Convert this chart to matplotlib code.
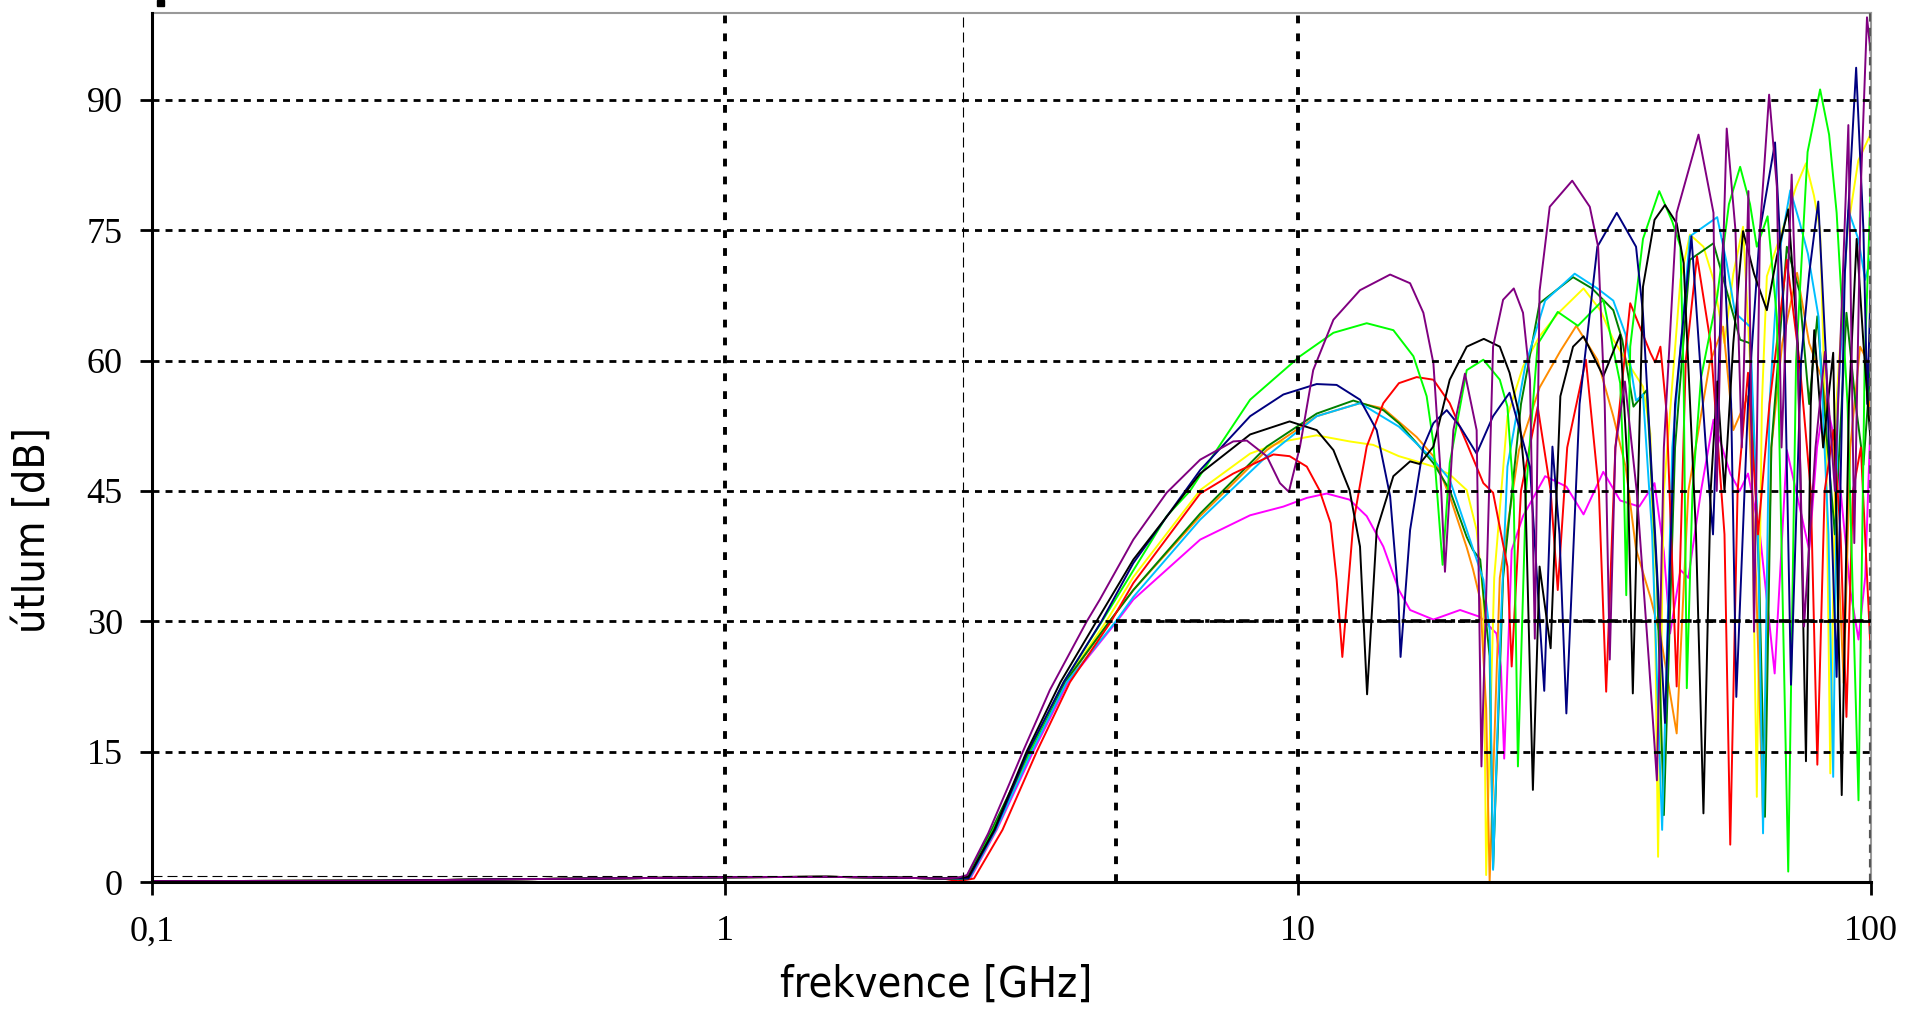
import matplotlib
matplotlib.use('Agg')
import matplotlib.pyplot as plt
from matplotlib.ticker import FixedLocator, FixedFormatter, NullLocator
from matplotlib.patches import Rectangle

# pass band below the cutoff, same for every sample  (GHz / dB)
pass_f = [0.1, 0.25, 0.4, 0.7, 1.0, 1.5, 2.0, 2.4]
pass_db = [0.1, 0.15, 0.3, 0.45, 0.55, 0.6, 0.5, 0.4]

# stop band
purple_f = [2.55, 2.645, 2.88, 3.14, 3.31, 3.69, 4.28, 4.51, 5.16, 5.90, 6.75, 7.71, 8.14, 8.82, 9.30, 9.64,
            10.08, 10.63, 11.53, 12.83, 14.48, 15.69, 16.55, 17.23, 17.69, 18.05, 18.67, 19.56, 20.5, 20.9, 21.9, 22.8,
            23.8, 24.7, 25.4, 25.9, 26.4, 27.5, 30.1, 32.3, 33.4, 34.3, 35.0, 35.8, 37.2, 39.0, 41.0, 42.3,
            43.5, 45.8, 50.0, 53.1, 53.8, 54.5, 56.0, 58.0, 59.5, 61.1, 62.5, 64.0, 66.4, 68.5, 69.8, 72.7,
            74.5, 76.4, 80.0, 83.1, 86.5, 91.3, 93.5, 96.0, 98.4, 100]
purple_db = [0.5, 0.8, 5.6, 11.4, 15, 22.1, 30, 32.5, 39.4, 44.8, 48.6, 50.7, 50.8, 49.0, 45.9, 44.9,
             50.1, 58.9, 64.7, 68.1, 69.9, 68.9, 65.5, 59.7, 48.2, 35.7, 52.0, 58.5, 52.0, 13.3, 61.6, 67.0,
             68.3, 65.5, 57.8, 28, 68, 77.7, 80.7, 77.7, 73.1, 55, 25.6, 50, 57.6, 45, 25, 11.7,
             50, 77.0, 86.0, 77.0, 45, 60, 86.7, 75, 50, 79.5, 28.8, 75, 90.6, 80, 50, 81.4,
             60, 29.4, 50, 61, 45, 87.1, 39, 80, 99.5, 95]

black_f = [2.55, 2.66, 2.95, 3.36, 3.85, 4.45, 5.16, 6.75, 8.25, 9.67, 10.78, 11.53, 12.3, 12.83, 13.2, 13.72,
           14.67, 15.69, 16.3, 17.23, 18.4, 19.70, 21.1, 22.5, 23.4, 24.3, 24.9, 25.7, 26.4, 27.6, 28.7, 30.2,
           31.5, 34.1, 36.5, 37.6, 38.4, 40.0, 41.9, 43.7, 45.8, 47.1, 49.5, 51.0, 52.5, 53.9, 55.5, 57.5,
           59.8, 62.5, 65.8, 68.5, 71.7, 74.5, 77.0, 78.5, 79.6, 82.5, 85.9, 88.9, 91.5, 94.4, 97.0, 100]
black_db = [0.5, 0.6, 6.0, 15, 23, 30, 37.1, 47.0, 51.5, 53.0, 52.0, 49.7, 45.1, 38.6, 21.6, 40.5,
            46.7, 48.4, 48.1, 50.1, 57.8, 61.6, 62.5, 61.6, 58.6, 53.9, 46.3, 10.6, 36.3, 26.9, 55.9, 61.6,
            62.8, 58.2, 63.0, 47.8, 21.7, 68.5, 76.2, 77.9, 75.8, 71.2, 40, 7.9, 45, 57.6, 45, 62,
            74.9, 70, 65.8, 72, 77.4, 62, 13.9, 55, 63.5, 50, 60.9, 10.0, 55, 74.0, 62, 50]

navy_f = [2.55, 2.66, 2.96, 3.38, 3.9, 4.54, 5.16, 6.75, 8.25, 9.43, 10.78, 11.68, 12.83, 13.72, 14.48, 14.97,
          15.1, 15.69, 16.55, 17.23, 18.18, 19.18, 20.5, 21.9, 23.4, 25.4, 26.4, 26.9, 27.8, 28.6, 29.4, 31.0,
          33.3, 36.0, 38.9, 40.0, 42.0, 43.7, 45.5, 48.6, 51.5, 53.0, 55.2, 57.0, 58.2, 61.0, 64.0, 68.0,
          70.5, 72.5, 75.5, 78.0, 80.9, 83.5, 87.1, 90.0, 94.2, 97.0, 98.5, 100]
navy_db = [0.4, 0.4, 6, 15, 23, 30, 36.7, 47.4, 53.6, 56.1, 57.3, 57.2, 55.5, 52.0, 44.4, 32.8,
           25.9, 40.5, 50.1, 52.8, 54.3, 52.4, 49.3, 53.6, 56.3, 47.8, 30.3, 22, 50.1, 40, 19.4, 55,
           73.1, 77.0, 73.1, 65.4, 40, 18.3, 55, 74.3, 50, 40, 74.0, 55, 21.3, 55, 75, 85.1,
           65, 22.7, 60, 70, 78.3, 60, 23.6, 70, 93.7, 75, 55, 70]

lime_f = [2.55, 2.65, 2.94, 3.40, 3.9, 4.55, 5.90, 6.48, 7.21, 8.25, 10.08, 11.53, 13.18, 14.67, 15.9, 16.77,
          17.23, 17.69, 17.88, 18.4, 19.7, 21.06, 22.5, 23.2, 23.8, 24.2, 25.0, 26.2, 28.4, 30.8, 34.1, 36.5,
          37.0, 37.4, 38.0, 40.0, 42.7, 45.0, 46.5, 47.1, 47.7, 48.8, 50.5, 53.9, 56.5, 59.1, 61.5, 63.2,
          66.0, 68.5, 71.7, 74.0, 77.5, 81.5, 84.5, 87.1, 91.0, 95.1, 97.5, 100]
lime_db = [0.4, 0.4, 6, 15, 23, 30, 42.1, 45, 49.7, 55.5, 60.5, 63.2, 64.3, 63.5, 60.5, 55.9,
           50.5, 40.5, 36.5, 48.2, 58.9, 60.1, 57.8, 54.7, 44.0, 13.3, 45, 61.9, 65.6, 64.0, 67.0, 57.4,
           47.8, 33, 61.6, 74, 79.5, 76, 73.1, 57.8, 22.3, 45, 58, 67.4, 78, 82.3, 78, 73.1,
           76.6, 65, 1.2, 60, 84, 91.2, 86, 77.0, 55, 9.4, 60, 80.8]

red_f = [2.55, 2.72, 3.05, 3.50, 4.0, 4.72, 5.16, 6.75, 7.71, 9.06, 9.67, 10.36, 10.9, 11.40, 11.68, 11.95,
         12.49, 13.18, 14.09, 15.0, 16.11, 17.23, 18.4, 19.70, 21.06, 21.9, 23.2, 23.6, 24.5, 26.2, 27.6, 28.4,
         29.5, 31.8, 33.5, 34.5, 35.8, 38.0, 41.2, 42.0, 42.9, 44.0, 45.8, 47.5, 49.7, 52.5, 55.5, 56.8,
         58.5, 61.0, 63.5, 66.5, 71.3, 75.0, 78.5, 80.6, 83.0, 86.0, 88.5, 90.6, 93.0, 96.0, 100]
red_db = [0.1, 0.4, 6, 15, 23, 30, 34.4, 44.7, 47.0, 49.2, 49.0, 47.8, 45.1, 41.3, 34.8, 25.9,
          41.3, 50.1, 55.1, 57.4, 58.1, 57.8, 55.1, 50.5, 45.9, 44.8, 36.3, 24.8, 45, 54.7, 45, 33.6,
          50, 60.1, 45, 21.9, 50, 66.6, 60.9, 59.8, 61.6, 53.9, 22.5, 60, 72.0, 62, 40, 4.3,
          45, 58.6, 40, 55, 71.6, 60, 45, 13.5, 45, 52, 40, 19.0, 45, 50, 25.6]

orange_f = [2.55, 2.67, 2.97, 3.42, 3.93, 4.69, 5.16, 6.75, 8.82, 10.78, 12.83, 14.09, 16.11, 17.23, 18.4, 19.7,
            20.2, 20.8, 21.3, 21.6, 22.5, 24.3, 26.4, 28.7, 30.6, 33.3, 35.5, 37.3, 38.9, 41.2, 43.0, 45.8,
            48.0, 52.3, 55.2, 57.5, 61.0, 63.0, 64.8, 67.0, 70.0, 74.3, 78.0, 82.0, 86.0, 89.6, 92.0, 95.7,
            98.5, 100]
orange_db = [0.4, 0.4, 6, 15, 23, 30, 33.6, 42.1, 49.7, 53.6, 55.1, 54.5, 51.2, 49.0, 44.4, 38.5,
             36, 32.5, 20, 0.1, 35, 49.7, 56.9, 61.1, 64.0, 60.1, 53.6, 47.8, 38.3, 32.8, 28, 17.1,
             45, 59.7, 63.9, 52, 55.9, 35, 7.1, 50, 62, 70.1, 62, 58, 50, 22.9, 50, 61.6,
             60, 50]

yellow_f = [2.55, 2.66, 2.95, 3.40, 3.92, 4.63, 5.16, 6.75, 8.25, 9.43, 10.78, 12.3, 13.53, 15.0, 16.11, 17.23,
            18.4, 19.7, 20.5, 21.06, 21.3, 22.0, 23.2, 24.7, 26.4, 28.4, 31.5, 33.7, 35.5, 38.0, 40.0, 41.2,
            42.0, 42.5, 43.5, 46.5, 48.3, 51.0, 53.1, 55.5, 57.5, 59.8, 61.5, 63.2, 64.5, 65.8, 70.0, 74.0,
            77.0, 79.5, 81.5, 83.5, 84.9, 87.0, 91.0, 95.0, 99.4, 100]
yellow_db = [0.4, 0.4, 6, 15, 23, 30, 35.1, 45.1, 49.3, 50.7, 51.4, 50.7, 50.3, 49.0, 48.4, 47.8,
             46.9, 45.1, 40.5, 32.8, 0.8, 35, 53.6, 59.3, 62.8, 65.4, 68.3, 65.8, 62.4, 59.3, 57.0, 51.6,
             30, 2.9, 45, 69.3, 74.5, 73.1, 69.3, 62, 70, 75.4, 60, 9.8, 55, 69.7, 75, 80,
             82.7, 79, 75.0, 50, 12.5, 55, 75, 83, 85.8, 85]

cyan_f = [2.55, 2.67, 2.97, 3.43, 3.95, 4.81, 5.16, 6.75, 8.82, 10.78, 12.83, 15.0, 17.23, 18.4, 19.7, 21.06,
          21.6, 21.9, 22.6, 23.2, 24.9, 27.0, 30.4, 33.3, 35.5, 37.3, 38.9, 40.0, 41.5, 43.2, 45.0, 48.3,
          53.9, 56.0, 57.9, 61.5, 63.5, 64.8, 66.5, 69.0, 72.3, 75.0, 77.6, 81.0, 84.3, 85.9, 87.5, 91.3,
          95.0, 97.7, 100]
cyan_db = [0.4, 0.4, 6, 15, 23, 30, 32.8, 41.7, 49.0, 53.6, 55.1, 52.4, 48.6, 46.3, 40.5, 34.8,
           29.0, 1.4, 30, 47.8, 59.3, 66.9, 70.0, 68.3, 66.9, 63.0, 55.4, 56.1, 40, 6.0, 50, 74.3,
           76.5, 71.2, 65.5, 63.9, 40, 5.6, 55, 72, 79.6, 76, 72.3, 65, 40, 12.1, 55, 77.3,
           74, 69.3, 72]

magenta_f = [2.55, 2.68, 2.98, 3.45, 3.97, 4.83, 5.16, 6.75, 8.25, 9.43, 10.36, 11.22, 12.3, 13.18, 14.09, 15.0,
             15.69, 17.23, 19.18, 20.8, 22.2, 22.6, 22.9, 23.6, 24.7, 27.0, 29.4, 31.5, 34.1, 36.5, 39.4, 41.9,
             43.5, 44.6, 46.5, 48.0, 50.5, 53.1, 56.8, 59.0, 61.0, 64.0, 67.9, 71.3, 74.0, 78.0, 80.5, 83.1,
             87.0, 92.0, 95.1, 97.7, 100]
magenta_db = [0.4, 0.4, 6, 15, 23, 30, 32.5, 39.4, 42.2, 43.2, 44.2, 44.7, 44.0, 42.1, 38.6, 33.6,
              31.3, 30.2, 31.3, 30.5, 28.6, 24.8, 14.2, 38.2, 42.1, 46.7, 45.5, 42.3, 47.2, 43.9, 43.2, 45.9,
              38, 28.6, 35.9, 35, 45, 53.2, 47.0, 45, 47.0, 40, 24.0, 49.7, 45, 38.2, 50, 55.9,
              50, 33.6, 27.9, 35.1, 54.7]

green_f = [2.55, 2.63, 2.92, 3.40, 3.92, 4.69, 5.16, 6.75, 8.82, 10.78, 12.49, 14.09, 15.0, 16.11, 17.23, 18.4,
           19.7, 20.2, 20.8, 21.1, 21.6, 21.9, 22.8, 24.5, 26.4, 30.2, 32.6, 35.5, 36.8, 38.5, 40.6, 42.3,
           43.5, 45.5, 48.3, 53.1, 56.0, 59.1, 61.5, 63.8, 65.3, 67.0, 71.3, 75.0, 78.0, 80.6, 83.5, 86.5,
           90.6, 94.0, 97.0, 100]
green_db = [0.4, 0.4, 6, 15, 23, 30, 33.6, 42.4, 50.1, 53.9, 55.4, 54.3, 52.8, 50.5, 48.2, 45.1,
            39.7, 38.2, 37.1, 32.5, 26.0, 1.6, 35, 55, 66.6, 69.6, 68.3, 65.8, 62.4, 54.7, 56.6, 35,
            7.7, 50, 71.6, 73.5, 68, 62.4, 62, 35, 7.5, 50, 73.1, 68, 55, 65.1, 52, 40,
            65.5, 55, 48, 60]

# drawing order (last one on top)
series = [
    (magenta_f, magenta_db, '#FF00FF'),
    (yellow_f, yellow_db, '#FFFF00'),
    (orange_f, orange_db, '#FF8C00'),
    (green_f, green_db, '#008000'),
    (cyan_f, cyan_db, '#00BFFF'),
    (red_f, red_db, '#FF0000'),
    (lime_f, lime_db, '#00FF00'),
    (navy_f, navy_db, '#000080'),
    (black_f, black_db, '#000000'),
    (purple_f, purple_db, '#800080'),
]

x_ticks = [0.1, 1, 10, 100]
x_labels = ['0,1', '1', '10', '100']
y_ticks = [0, 15, 30, 45, 60, 75, 90]

cutoff_f = 2.605      # thin dashed marker
cutoff_db = 0.73
spec_f = 4.81         # 30 dB spec corner
spec_db = 30

fig = plt.figure(figsize=(19.09, 10.13), dpi=100)
ax = fig.add_axes([0.0796, 0.1293, 0.9005, 0.8579])

for f, db, col in series:
    ax.plot(pass_f + f, pass_db + db, color=col, lw=1.4, zorder=2)

# grid
for y in y_ticks[1:]:
    ax.axhline(y, color='black', lw=2.0, ls=(0, (2.5, 2.2)), zorder=4)
for x in x_ticks[1:3]:
    ax.axvline(x, color='black', lw=2.8, ls=(0, (2.0, 2.6)), zorder=4)
ax.axvline(100, color='#555555', lw=3.0, ls=(0, (2.0, 1.5)), zorder=4)

# spec / cutoff markers
ax.plot([spec_f, spec_f], [0, spec_db], color='black', lw=2.8, ls=(0, (2.0, 2.6)), zorder=4)
ax.plot([spec_f, 100], [spec_db, spec_db], color='black', lw=2.6, ls=(0, (3.0, 1.3, 1.2, 1.3)), zorder=4)
ax.axvline(cutoff_f, color='black', lw=0.8, ls=(0, (9, 4.5)), zorder=4)
ax.plot([0.1, cutoff_f], [cutoff_db, cutoff_db], color='black', lw=0.8, ls=(0, (9, 4.5)), zorder=4)

ax.set_xscale('log')
ax.set_xlim(0.1, 100)
ax.set_ylim(0, 100)
ax.xaxis.set_major_locator(FixedLocator(x_ticks))
ax.xaxis.set_major_formatter(FixedFormatter(x_labels))
ax.xaxis.set_minor_locator(NullLocator())
ax.yaxis.set_major_locator(FixedLocator(y_ticks))
ax.yaxis.set_minor_locator(NullLocator())

for s in ['left', 'bottom']:
    ax.spines[s].set_linewidth(2.2)
    ax.spines[s].set_color('black')
for s in ['top', 'right']:
    ax.spines[s].set_linewidth(1.5)
    ax.spines[s].set_color('#999999')
ax.spines['left'].set_zorder(5)
ax.spines['bottom'].set_zorder(5)

ax.tick_params(axis='both', direction='out', length=9, width=2, labelsize=26, colors='black')
ax.tick_params(axis='x', pad=15)
ax.tick_params(axis='y', pad=12)
for lab in ax.get_xticklabels() + ax.get_yticklabels():
    lab.set_family(['Liberation Serif', 'DejaVu Serif'])

label_font = ['Liberation Sans Narrow', 'DejaVu Sans']
ax.set_xlabel('frekvence [GHz]', fontsize=31, family=label_font, fontstretch='condensed')
ax.set_ylabel('útlum [dB]', fontsize=31, family=label_font, fontstretch='condensed')
ax.xaxis.set_label_coords(0.456, -0.094)
ax.yaxis.set_label_coords(-0.057, 0.405)

# small black mark above the axis corner
fig.patches.append(Rectangle((157 / 1909, 1 - 6 / 1013), 7 / 1909, 6 / 1013,
                             transform=fig.transFigure, color='black'))

fig.savefig('out.png', dpi=100)
